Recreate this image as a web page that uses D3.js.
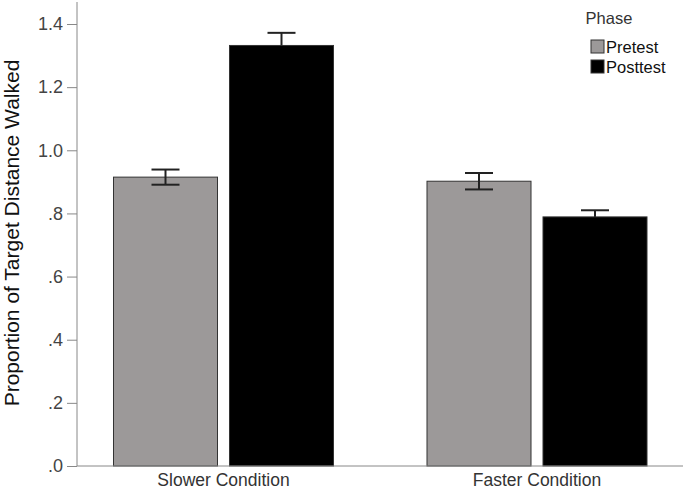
<!DOCTYPE html>
<html>
<head>
<meta charset="utf-8">
<script src="https://cdn.jsdelivr.net/npm/d3@7"></script>
<style>
  body { margin: 0; background: #fff; overflow: hidden; }
  svg { display: block; }
  text { font-family: "Liberation Sans", Arial, sans-serif; }
</style>
</head>
<body>
<div id="chart"></div>
<script>
var categories = ['Slower Condition', 'Faster Condition']
var phases = ['Pretest', 'Posttest']
var means = {
  'Pretest':  [0.915, 0.902],
  'Posttest': [1.332, 0.789]
}
var errors = {
  'Pretest':  [0.024, 0.026],
  'Posttest': [0.040, 0.021]
}
var yTicks = [0, 0.2, 0.4, 0.6, 0.8, 1.0, 1.2, 1.4]
var colors = ['#9c9999', '#000000']

var width = 685, height = 491

var svg = d3.select('#chart').append('svg')
  .attr('width', width)
  .attr('height', height)

var yScale = d3.scaleLinear()
  .domain([0, 1.4])
  .range([466, 24])

var x0 = d3.scaleBand()
  .domain(categories)
  .range([66.75, 693.75])

var x1 = d3.scaleBand()
  .domain(phases)
  .range([0, x0.bandwidth()])
  .paddingInner(0.1034)
  .paddingOuter(0.403)

var color = d3.scaleOrdinal().domain(phases).range(colors)

var tickFormat = function(d) {
  var s = d3.format('.1f')(d)
  return d < 1 ? s.replace(/^0/, '') : s
}

// y axis
var yAxis = svg.append('g')
  .attr('transform', 'translate(77,0)')
  .call(d3.axisLeft(yScale).tickValues(yTicks).tickFormat(tickFormat).tickSize(10).tickSizeOuter(0).tickPadding(4))
yAxis.select('.domain').remove()
yAxis.selectAll('.tick line').attr('stroke', '#888')
yAxis.selectAll('.tick text')
  .attr('fill', '#444')
  .style('font-size', '18px')

svg.append('line')
  .attr('x1', 77).attr('x2', 77)
  .attr('y1', 2).attr('y2', 466)
  .attr('stroke', '#888')

// bars
var rows = []
categories.forEach(function(c, i) {
  phases.forEach(function(p) {
    rows.push({cat: c, phase: p, value: means[p][i], err: errors[p][i]})
  })
})

var groups = svg.selectAll('.bar')
  .data(rows)
  .enter().append('g')
  .attr('class', 'bar')
  .attr('transform', d => 'translate(' + (x0(d.cat) + x1(d.phase)) + ',0)')

groups.append('rect')
  .attr('x', 0)
  .attr('y', d => yScale(d.value))
  .attr('width', x1.bandwidth())
  .attr('height', d => yScale(0) - yScale(d.value))
  .attr('fill', d => color(d.phase))
  .attr('stroke', '#333')
  .attr('stroke-width', 1)

var cx = x1.bandwidth() / 2, cap = 14
// posttest bars are black, so only the upper half of their error bar shows
groups.append('line')
  .attr('x1', cx).attr('x2', cx)
  .attr('y1', d => yScale(d.value + d.err))
  .attr('y2', d => d.phase === 'Pretest' ? yScale(d.value - d.err) : yScale(d.value))
  .attr('stroke', '#222').attr('stroke-width', 2)
groups.append('line')
  .attr('x1', cx - cap).attr('x2', cx + cap)
  .attr('y1', d => yScale(d.value + d.err))
  .attr('y2', d => yScale(d.value + d.err))
  .attr('stroke', '#222').attr('stroke-width', 2)
groups.filter(d => d.phase === 'Pretest').append('line')
  .attr('x1', cx - cap).attr('x2', cx + cap)
  .attr('y1', d => yScale(d.value - d.err))
  .attr('y2', d => yScale(d.value - d.err))
  .attr('stroke', '#222').attr('stroke-width', 2)

// x axis
svg.append('line')
  .attr('x1', 77).attr('x2', 683)
  .attr('y1', 466).attr('y2', 466)
  .attr('stroke', '#888')

svg.selectAll('.cat')
  .data(categories)
  .enter().append('text')
  .attr('class', 'cat')
  .attr('x', d => x0(d) + x0.bandwidth() / 2)
  .attr('y', 486)
  .attr('text-anchor', 'middle')
  .attr('fill', '#333')
  .style('font-size', '17.5px')
  .text(d => d)

// y title
svg.append('text')
  .attr('transform', 'translate(19,233) rotate(-90)')
  .attr('text-anchor', 'middle')
  .attr('fill', '#111')
  .style('font-size', '21px')
  .text('Proportion of Target Distance Walked')

// legend
svg.append('text')
  .attr('x', 609).attr('y', 24)
  .attr('text-anchor', 'middle')
  .attr('fill', '#333')
  .style('font-size', '16.5px')
  .text('Phase')

var legend = svg.selectAll('.legend')
  .data(phases)
  .enter().append('g')
  .attr('class', 'legend')
  .attr('transform', (d, i) => 'translate(591,' + (40 + i * 20) + ')')

legend.append('rect')
  .attr('width', 13).attr('height', 13)
  .attr('fill', d => color(d))
  .attr('stroke', '#333')

legend.append('text')
  .attr('x', 15).attr('y', 13)
  .attr('fill', '#111')
  .style('font-size', '16.5px')
  .text(d => d)
</script>
</body>
</html>
